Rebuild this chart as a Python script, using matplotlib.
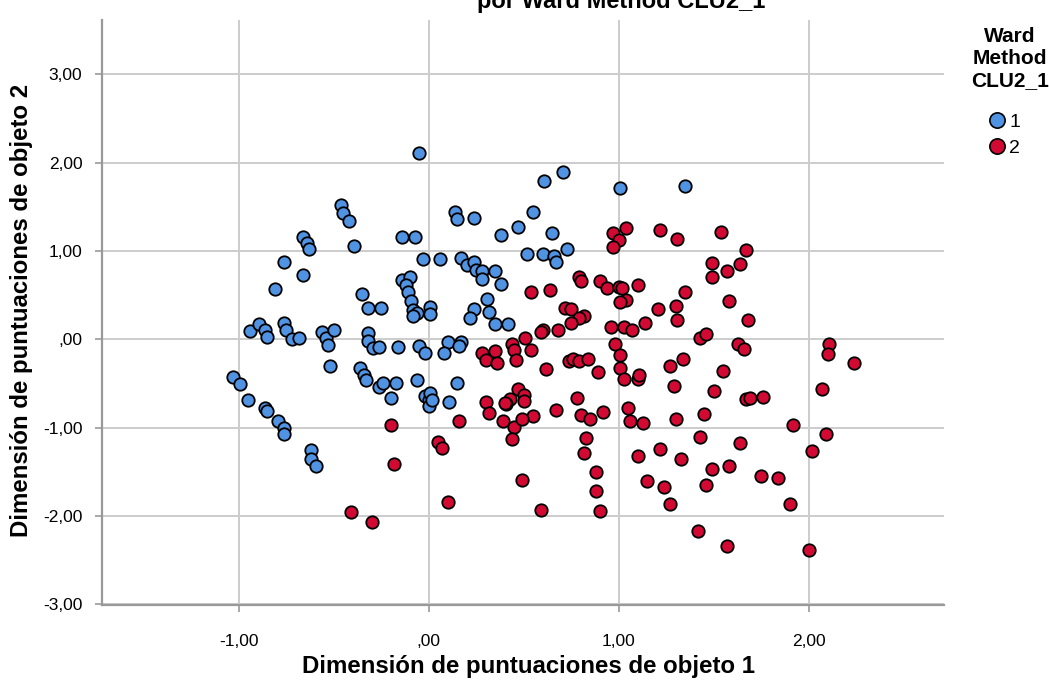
import matplotlib
matplotlib.use("Agg")
import matplotlib.pyplot as plt
from matplotlib.lines import Line2D
from matplotlib.ticker import FuncFormatter

plt.rcParams['font.family'] = ['Liberation Sans', 'DejaVu Sans']

# Cluster 1 (blue)
c1_x = [-0.05, -0.46, -0.45, -0.42, -0.66, -0.64, -0.63, -0.39, -0.14, -0.07,
        -0.76, -0.66, -0.81, -0.03, -0.35, -0.32, -0.25, -0.14, -0.10, -0.12,
        -0.11, -0.09, -0.08, -0.06, -0.08, 0.01, 0.01, -0.94, -0.89, -0.86,
        -0.85, -0.76, -0.75, -0.72, -0.68, -0.56, -0.54, -0.53, -0.50, -0.32,
        -0.32, -0.29, -0.26, -0.16, -0.05, -0.02, -0.52, -1.03, -0.99, -0.95,
        -0.86, -0.85, -0.79, -0.76, -0.76, -0.62, -0.62, -0.59, -0.36, -0.34,
        -0.33, -0.26, -0.24, -0.17, -0.20, -0.06, -0.02, 0.00, 0.00, 0.01,
        0.02, 0.61, 0.71, 1.01, 0.14, 0.15, 0.24, 0.55, 0.47, 0.38,
        0.65, 0.06, 0.17, 0.20, 0.24, 0.25, 0.28, 0.28, 0.35, 0.38,
        0.52, 0.60, 0.66, 0.67, 0.73, 0.31, 0.24, 0.22, 0.32, 0.35,
        0.42, 0.10, 0.08, 0.17, 0.16, 0.15, 0.11, 1.35]
c1_y = [2.11, 1.52, 1.43, 1.34, 1.16, 1.09, 1.02, 1.06, 1.16, 1.16,
        0.88, 0.73, 0.57, 0.91, 0.51, 0.36, 0.36, 0.67, 0.70, 0.61,
        0.53, 0.43, 0.33, 0.30, 0.26, 0.37, 0.29, 0.09, 0.17, 0.10,
        0.03, 0.19, 0.10, 0.00, 0.02, 0.08, 0.01, -0.06, 0.11, 0.07,
        -0.02, -0.10, -0.09, -0.09, -0.08, -0.15, -0.30, -0.43, -0.51, -0.69,
        -0.78, -0.81, -0.92, -1.00, -1.07, -1.25, -1.35, -1.44, -0.33, -0.40,
        -0.46, -0.54, -0.50, -0.50, -0.67, -0.46, -0.64, -0.69, -0.76, -0.61,
        -0.69, 1.79, 1.89, 1.71, 1.44, 1.36, 1.37, 1.44, 1.27, 1.18,
        1.20, 0.91, 0.92, 0.84, 0.87, 0.79, 0.77, 0.68, 0.77, 0.63,
        0.97, 0.97, 0.94, 0.88, 1.02, 0.46, 0.34, 0.24, 0.31, 0.17,
        0.17, -0.03, -0.15, -0.03, -0.08, -0.49, -0.71, 1.74]

# Cluster 2 (red)
c2_x = [-0.20, -0.18, -0.41, -0.30, 0.97, 1.04, 1.00, 0.97, 0.79, 0.80,
        0.90, 0.94, 1.00, 1.02, 1.04, 1.01, 1.10, 0.54, 0.64, 0.72,
        0.75, 0.82, 0.79, 0.75, 0.96, 1.03, 1.07, 0.51, 0.44, 0.45,
        0.54, 0.60, 0.59, 0.68, 0.98, 1.01, 0.28, 0.35, 0.30, 0.36,
        0.46, 0.62, 0.74, 0.76, 0.79, 0.84, 0.89, 1.01, 1.03, 1.10,
        1.11, 0.78, 0.80, 0.85, 0.92, 1.05, 1.06, 1.10, 0.83, 0.82,
        0.88, 0.88, 0.90, 0.67, 0.55, 0.47, 0.50, 0.50, 0.43, 0.41,
        0.40, 0.30, 0.32, 0.39, 0.45, 0.49, 0.44, 0.16, 0.05, 0.07,
        0.49, 0.10, 0.59, 1.22, 1.31, 1.54, 1.67, 1.49, 1.57, 1.64,
        1.49, 1.35, 1.21, 1.30, 1.31, 1.14, 1.58, 1.68, 1.43, 1.46,
        1.63, 1.66, 2.11, 2.10, 2.24, 1.34, 1.27, 1.29, 1.55, 1.50,
        1.67, 1.69, 1.76, 1.13, 1.30, 1.45, 1.92, 2.07, 2.09, 2.02,
        1.43, 1.64, 1.22, 1.33, 1.49, 1.58, 1.75, 1.84, 1.15, 1.24,
        1.46, 1.27, 1.90, 1.42, 1.57, 2.00]
c2_y = [-0.97, -1.41, -1.96, -2.07, 1.20, 1.26, 1.12, 1.05, 0.71, 0.66,
        0.66, 0.58, 0.59, 0.58, 0.45, 0.42, 0.62, 0.53, 0.56, 0.36,
        0.34, 0.26, 0.24, 0.19, 0.14, 0.14, 0.11, 0.02, -0.05, -0.12,
        -0.12, 0.11, 0.08, 0.10, -0.05, -0.18, -0.16, -0.13, -0.24, -0.27,
        -0.23, -0.34, -0.25, -0.22, -0.25, -0.22, -0.37, -0.32, -0.45, -0.45,
        -0.40, -0.66, -0.86, -0.90, -0.82, -0.78, -0.92, -1.32, -1.12, -1.29,
        -1.50, -1.72, -1.95, -0.80, -0.87, -0.56, -0.63, -0.70, -0.68, -0.73,
        -0.72, -0.71, -0.84, -0.93, -0.99, -0.90, -1.13, -0.92, -1.16, -1.23,
        -1.59, -1.84, -1.93, 1.24, 1.14, 1.22, 1.01, 0.86, 0.77, 0.85,
        0.71, 0.54, 0.34, 0.38, 0.22, 0.18, 0.43, 0.22, 0.02, 0.06,
        -0.05, -0.11, -0.05, -0.17, -0.27, -0.22, -0.30, -0.53, -0.36, -0.58,
        -0.68, -0.66, -0.65, -0.95, -0.90, -0.85, -0.97, -0.56, -1.07, -1.26,
        -1.11, -1.17, -1.24, -1.35, -1.47, -1.44, -1.55, -1.57, -1.61, -1.67,
        -1.65, -1.87, -1.86, -2.17, -2.34, -2.39]

cluster_labels = ['1', '2']
cluster_colors = ['#5193E3', '#D20A33']
x_ticks = [-1, 0, 1, 2]
y_ticks = [-3, -2, -1, 0, 1, 2, 3]

def fmt(v, pos=None):
    s = f"{v:.2f}".replace('.', ',')
    if s.startswith('0,'):
        s = s[1:]
    if s.startswith('-0,'):
        s = ',' + s[3:]
    return s

fig = plt.figure(figsize=(10.49, 6.81), dpi=100)
ax = fig.add_axes([101.7/1049, 76/681, (944-101.7)/1049, (605-20)/681])

ax.scatter(c1_x, c1_y, s=80, c=cluster_colors[0], edgecolors='black', linewidths=1.3, zorder=3)
ax.scatter(c2_x, c2_y, s=80, c=cluster_colors[1], edgecolors='black', linewidths=1.3, zorder=3)

ax.set_xlim(-1.72, 2.713)
ax.set_ylim(-3.009, 3.616)
ax.set_xticks(x_ticks)
ax.set_yticks(y_ticks)
ax.xaxis.set_major_formatter(FuncFormatter(fmt))
ax.yaxis.set_major_formatter(FuncFormatter(fmt))
ax.grid(True, color='#cccccc', linewidth=1.4, zorder=0)
ax.set_axisbelow(True)
for sp in ['top', 'right']:
    ax.spines[sp].set_visible(False)
for sp in ['left', 'bottom']:
    ax.spines[sp].set_color('#999999')
    ax.spines[sp].set_linewidth(1.6)
ax.tick_params(axis='both', colors='#999999', length=5, width=1.2, labelsize=12.5,
               labelcolor='black')
ax.tick_params(axis='x', pad=16)
ax.tick_params(axis='y', pad=9)

fig.text(528/1049, 1 - 666/681, 'Dimensión de puntuaciones de objeto 1',
         ha='center', va='center', fontsize=17.3, fontweight='bold')
fig.text(22/1049, 1 - 310/681, 'Dimensión de puntuaciones de objeto 2',
         ha='center', va='center', rotation=90, fontsize=17.3, fontweight='bold')
fig.text(621/1049, 1 - 8/681, 'por Ward Method CLU2_1',
         ha='center', va='baseline', fontsize=17, fontweight='bold')

# legend title
fig.text(1010/1049, 1 - 27/681, 'Ward\nMethod\nCLU2_1', ha='center', va='top',
         multialignment='center', fontsize=15, fontweight='bold', linespacing=1.2)

handles = [Line2D([], [], marker='o', linestyle='none', markersize=11,
                  markerfacecolor=c, markeredgecolor='black', markeredgewidth=1.2)
           for c in cluster_colors]
leg = fig.legend(handles, cluster_labels, loc='upper left',
                 bbox_to_anchor=(984/1049, 1 - 113/681), frameon=False,
                 fontsize=14, handletextpad=0.0, labelspacing=0.45,
                 handlelength=1.3, borderaxespad=0, borderpad=0)

fig.savefig('out.png', dpi=100)
